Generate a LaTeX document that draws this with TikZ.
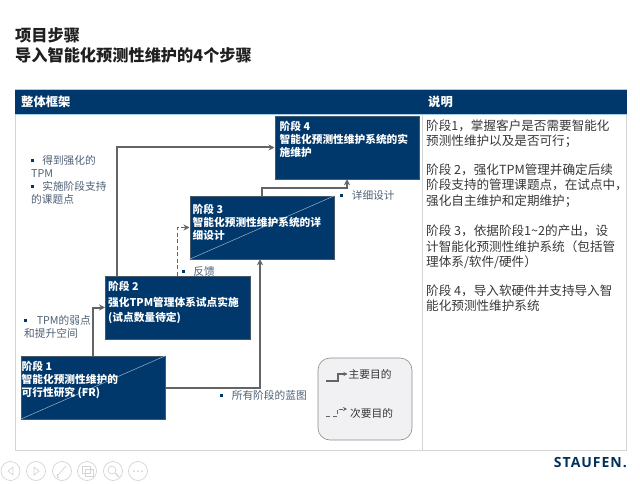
\documentclass[tikz,border=0pt]{standalone}
\usepackage{fontspec}
\usepackage{xcolor}
\usepackage{tikz}
\setmainfont{Noto Sans CJK SC}
\newfontfamily\logofont[LetterSpace=7]{Open Sans}
\usetikzlibrary{positioning, arrows.meta}
\definecolor{deepblue}{RGB}{0, 56, 107}
\definecolor{lineblue}{RGB}{165, 205, 235}
\definecolor{arrowgrey}{RGB}{100, 100, 102}
\definecolor{notegrey}{RGB}{78, 96, 116}
\definecolor{framegrey}{RGB}{212, 212, 212}
\definecolor{legendfill}{RGB}{241, 241, 243}
\newcommand{\bulletmark}{\textcolor{deepblue}{\rule[2.5pt]{2.6pt}{2.6pt}}}

\begin{document}
\begin{tikzpicture}[
    x=1pt, y=-1pt,
    stagebox/.style={
      rectangle,
      draw=arrowgrey!70!deepblue,
      line width=0.5pt,
      fill=deepblue,
      minimum width=144.5pt,
      minimum height=63pt,
      inner sep=0pt
    },
    stagetext/.style={
      anchor=north west,
      align=left,
      text=white,
      inner xsep=2pt,
      inner ysep=5.5pt,
      font=\fontsize{10.7}{13}\selectfont\bfseries
    },
    diagline/.style={draw=white!62!deepblue, line width=0.5pt},
    arrow/.style={-{Stealth[length=6pt,width=6pt]}, line width=2pt, draw=arrowgrey},
    minorarrow/.style={arrow, line width=1.2pt, dash pattern=on 4pt off 2.5pt},
    note/.style={
      anchor=north west,
      align=left,
      inner sep=0pt,
      text=notegrey,
      font=\fontsize{10.7}{13}\selectfont
    },
    headbar/.style={
      anchor=west,
      inner sep=0pt,
      text=white,
      font=\fontsize{12.3}{14}\selectfont\bfseries
    },
    toolicon/.style={circle, draw=framegrey, line width=0.7pt, minimum size=19pt, inner sep=0pt},
    toolmark/.style={draw=framegrey, line width=0.7pt},
    node distance=16.5pt and -60pt
  ]
    \useasboundingbox (0,0) rectangle (640,484);

    \node[anchor=north west, align=left, inner sep=0pt, text=black!88, font=\fontsize{16.2}{20}\selectfont\bfseries] (title) at (15,27) {项目步骤\\导入智能化预测性维护的4个步骤};

    \draw[framegrey, line width=0.8pt] (15.5,114) rectangle (626,450);
    \draw[framegrey, line width=0.8pt] (422,114) -- (422,450);
    \fill[deepblue] (15,89) rectangle (626.5,114);
    \draw[lineblue, line width=0.6pt] (15,89) -- (626.5,89);
    \draw[lineblue, line width=0.6pt] (15,114) -- (626.5,114);
    \node[headbar] (framehead) at (21,102) {整体框架};
    \node[headbar] (notehead) at (428,102) {说明};

    \node[stagebox] (stage1) at (93,387.5) {};
    \node[stagebox, above right=of stage1, xshift=-0.5pt] (stage2) {};
    \node[stagebox, above right=of stage2, xshift=-0.5pt] (stage3) {};
    \node[stagebox, above right=of stage3] (stage4) {};

    \draw[diagline] (stage1.south west) -- (stage1.north east);
    \draw[diagline] (stage3.south west) -- (stage3.north east);

    \node[stagetext, xshift=-1pt] (text1) at (stage1.north west) {阶段 1\\智能化预测性维护的\\可行性研究 (FR)};
    \node[stagetext, xshift=1pt, font=\fontsize{10.7}{15.5}\selectfont\bfseries] (text2) at (stage2.north west) {阶段 2\\强化TPM管理体系试点实施\\(试点数量待定)};
    \node[stagetext, xshift=1pt, yshift=-3pt] (text3) at (stage3.north west) {阶段 3\\智能化预测性维护系统的详\\细设计};
    \node[stagetext, xshift=3pt] (text4) at (stage4.north west) {阶段 4\\智能化预测性维护系统的实\\施维护};

    \draw[arrow] (stage1.north) |- (stage2.west);
    \draw[arrow] ([xshift=-60.5pt]stage2.north) |- (stage4.west);
    \draw[minorarrow] (stage2.north) |- (stage3.west);
    \draw[arrow] (stage1.east) -| ([xshift=-2pt]stage3.south);
    \draw[arrow] (stage3.north) -- ++(0,-8) -| (stage4.south);

    \node[note] (gain) at (31,155) {\bulletmark\hspace{8.5pt}得到强化的\\TPM\\\bulletmark\hspace{8.5pt}实施阶段支持\\的课题点};
    \node[note] (weak) at (24,315) {\bulletmark\hspace{10pt}TPM的弱点\\和提升空间};
    \node[note] (feedback) at (182,266) {\bulletmark\hspace{8.5pt}反馈};
    \node[note] (detail) at (340,190) {\bulletmark\hspace{9pt}详细设计};
    \node[note] (blueprint) at (220,390) {\bulletmark\hspace{9pt}所有阶段的蓝图};

    \node[anchor=north west, align=left, inner sep=0pt, text=black!78, font=\fontsize{12.6}{15.5}\selectfont] (explain) at (426,119.5) {阶段1，掌握客户是否需要智能化\\预测性维护以及是否可行；\\[13pt]阶段 2，强化TPM管理并确定后续\\阶段支持的管理课题点，在试点中，\\强化自主维护和定期维护；\\[15pt]阶段 3，依据阶段1\textasciitilde 2的产出，设\\计智能化预测性维护系统（包括管\\理体系/软件/硬件）\\[13pt]阶段 4，导入软硬件并支持导入智\\能化预测性维护系统};

    \node[rectangle, rounded corners=12pt, draw=black!45, line width=0.6pt, fill=legendfill, minimum width=94pt, minimum height=82pt] (legend) at (365,399) {};
    \node[anchor=west, inner sep=0pt, text=black!80, font=\fontsize{10.7}{13}\selectfont] (mainlabel) at (348.5,374) {主要目的};
    \node[anchor=west, inner sep=0pt, text=black!80, font=\fontsize{10.7}{13}\selectfont] (minorlabel) at (350,413) {次要目的};
    \coordinate (mainstart) at (326,381);
    \coordinate (minorstart) at (326,416);
    \draw[arrow, line width=1.4pt, -{Stealth[length=4pt,width=4pt]}] (mainstart) -- ++(12,0) |- ([xshift=-1pt]mainlabel.west);
    \draw[minorarrow, line width=1pt, -{Stealth[length=4pt,width=4pt]}] (minorstart) -- ++(11,0) |- ([yshift=4pt,xshift=-3pt]minorlabel.west);

    \node[anchor=east, inner sep=0pt, text=deepblue!85!black, font=\logofont\fontsize{14}{16}\selectfont\bfseries] (logo) at (627,463) {STAUFEN.};

    \node[toolicon] (prev) at (10.5,471) {};
    \node[toolicon] (next) at (36,471) {};
    \node[toolicon] (pen) at (62,471) {};
    \node[toolicon] (copy) at (87,471) {};
    \node[toolicon] (zoom) at (113,471) {};
    \node[toolicon] (more) at (138,471) {};
    \draw[toolmark] (13,467) -- (8,471) -- (13,475) -- cycle;
    \draw[toolmark] (34,467) -- (39,471) -- (34,475) -- cycle;
    \draw[toolmark] (57,476) -- (66,466);
    \draw[toolmark] (59,477) -- (57,477) -- (57,474);
    \draw[toolmark] (82,466) rectangle (90,473);
    \draw[toolmark] (85,469) rectangle (93,476);
    \draw[toolmark] (112,470) circle (4pt);
    \draw[toolmark, line width=1.2pt] (115,473) -- (119,477);
    \foreach \dotx in {134,138,142} {
      \fill[framegrey] (\dotx,471) circle (1pt);
    }
  \end{tikzpicture}
\end{document}
